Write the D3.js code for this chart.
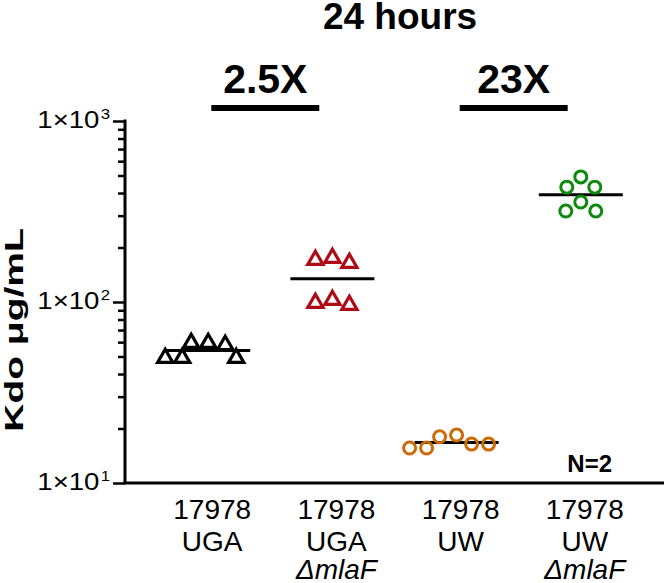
<!DOCTYPE html>
<html>
<head>
<meta charset="utf-8">
<script src="https://cdn.jsdelivr.net/npm/d3@7"></script>
<style>
  body { margin: 0; background: #fff; }
  text { font-family: "Liberation Sans", Arial, sans-serif; fill: #000; }
</style>
</head>
<body>
<div id="chart"></div>
<script>
  /**
   * DATA
   * */
  const categories = ["17978 UGA", "17978 UGA mlaF", "17978 UW", "17978 UW mlaF"];
  const catLine1 = ["17978", "17978", "17978", "17978"];
  const catLine2 = ["UGA", "UGA", "UW", "UW"];
  const catLine3 = ["", "\u0394mlaF", "", "\u0394mlaF"];
  const colors = ["#000000", "#ad0c16", "#cc6a06", "#0b8a0b"];
  const shapes = ["triangle", "triangle", "circle", "circle"];

  const ugaWT  = [59.3, 59.3, 57.8, 49.0, 49.0, 49.0];
  const ugaMla = [170.6, 164.3, 175.0, 102.6, 96.2, 98.7];
  const uwWT   = [16.4, 18.0, 15.6, 15.6, 18.4, 16.4];
  const uwMla  = [431, 431, 491, 357, 318, 318];
  const seriesValues = [ugaWT, ugaMla, uwWT, uwMla];

  const majorTicks = [10, 100, 1000];
  const foldLabels = ["2.5X", "23X"];
  const foldPairs = [[0, 1], [2, 3]];
  const title = "24 hours";
  const yLabel = "Kdo \u03bcg/mL";
  const nLabel = "N=2";

  /**
   * CONSTANTS
   * */
  const width = 670, height = 583;
  const margin = { top: 121, bottom: 100, left: 125, right: 6 };

  const svg = d3.select("#chart")
    .append("svg")
    .attr("width", width)
    .attr("height", height);

  const yScale = d3.scaleLog()
    .domain([10, 1000])
    .range([height - margin.bottom, margin.top]);

  const xScale = d3.scaleBand()
    .domain(categories)
    .range([margin.left, width - margin.right])
    .paddingInner(0)
    .paddingOuter(0.17);

  const cx = d => xScale(d) + xScale.bandwidth() / 2;

  // minor ticks 2..9 for every decade
  let allTicks = [];
  majorTicks.forEach(m => {
    allTicks.push(m);
    if (m < 1000) d3.range(2, 10).forEach(k => allTicks.push(m * k));
  });

  /**
   * AXES
   * */
  const yAxis = d3.axisLeft(yScale).tickValues(allTicks).tickFormat("").tickSizeOuter(0);
  const gy = svg.append("g")
    .attr("transform", `translate(${margin.left},0)`)
    .call(yAxis);
  gy.select(".domain").attr("stroke-width", 3).attr("d", `M0,${margin.top - 1.5}V${height - margin.bottom}`);
  gy.selectAll(".tick line")
    .attr("stroke-width", 2.5)
    .attr("x2", d => majorTicks.includes(d) ? -12 : -7);

  majorTicks.forEach(m => {
    const t = svg.append("text")
      .attr("transform", `translate(${margin.left - 15},${yScale(m) + 7}) scale(1.2,1)`)
      .attr("text-anchor", "end")
      .style("font-size", "23px");
    t.append("tspan").text("1\u00d710");
    t.append("tspan")
      .attr("dy", -9)
      .attr("dx", 1)
      .style("font-size", "14px")
      .text(Math.round(Math.log10(m)));
  });

  svg.append("line")
    .attr("x1", margin.left - 1.5)
    .attr("x2", width - margin.right)
    .attr("y1", height - margin.bottom)
    .attr("y2", height - margin.bottom)
    .attr("stroke", "#000")
    .attr("stroke-width", 3);

  // category labels
  const catG = svg.selectAll("g.cat")
    .data(categories)
    .join("g")
    .attr("class", "cat")
    .attr("transform", d => `translate(${cx(d) + 4},${height - margin.bottom})`);
  catG.append("text").attr("y", 36).attr("text-anchor", "middle")
    .style("font-size", "28px").text((d, i) => catLine1[i]);
  catG.append("text").attr("y", 68).attr("text-anchor", "middle")
    .style("font-size", "28px").text((d, i) => catLine2[i]);
  catG.append("text").attr("y", 96).attr("text-anchor", "middle")
    .style("font-size", "28px").style("font-style", "italic").text((d, i) => catLine3[i]);

  // y label
  svg.append("text")
    .attr("transform", `translate(23,330) rotate(-90) scale(1.5,1)`)
    .attr("text-anchor", "middle")
    .style("font-size", "26px")
    .style("font-weight", "bold")
    .text(yLabel);

  // title
  svg.append("text")
    .attr("x", 400).attr("y", 29)
    .attr("text-anchor", "middle")
    .style("font-size", "37px")
    .style("font-weight", "bold")
    .text(title);

  /**
   * POINTS  (simple beeswarm so the markers spread sideways)
   * */
  function swarm(vals, D) {
    const placed = [];
    const order = d3.range(vals.length).sort((a, b) => vals[b] - vals[a]);
    order.forEach(i => {
      const py = yScale(vals[i]);
      let dx = 0;
      for (let k = 0; k < 400; k++) {
        const cand = k === 0 ? 0 : (k % 2 ? -(k + 1) / 2 : k / 2);
        if (placed.every(p => Math.hypot(p.dx - cand, p.y - py) >= D)) { dx = cand; break; }
      }
      placed.push({ i, dx, y: py, v: vals[i] });
    });
    return placed;
  }

  const triangle = d3.symbol().type(d3.symbolTriangle).size(100);

  categories.forEach((c, gi) => {
    const pts = swarm(seriesValues[gi], 17);
    const g = svg.append("g").attr("class", "group");

    // mean line
    const m = d3.mean(seriesValues[gi]);
    g.append("line")
      .attr("x1", cx(c) - 42).attr("x2", cx(c) + 42)
      .attr("y1", yScale(m)).attr("y2", yScale(m))
      .attr("stroke", "#000").attr("stroke-width", 3);

    if (shapes[gi] === "triangle") {
      g.selectAll("path.pt")
        .data(pts)
        .join("path")
        .attr("class", "pt")
        .attr("d", triangle)
        .attr("transform", d => `translate(${cx(c) + d.dx},${d.y})`)
        .attr("fill", "none")
        .attr("stroke", colors[gi])
        .attr("stroke-width", 3.2);
    } else {
      g.selectAll("circle.pt")
        .data(pts)
        .join("circle")
        .attr("class", "pt")
        .attr("cx", d => cx(c) + d.dx)
        .attr("cy", d => d.y)
        .attr("r", 6)
        .attr("fill", "none")
        .attr("stroke", colors[gi])
        .attr("stroke-width", 3);
    }
  });

  /**
   * FOLD CHANGE BARS
   * */
  foldPairs.forEach((p, i) => {
    const mid = (cx(categories[p[0]]) + cx(categories[p[1]])) / 2 - 5;
    const x1 = mid - 54, x2 = mid + 54;
    svg.append("line")
      .attr("x1", x1).attr("x2", x2)
      .attr("y1", 108).attr("y2", 108)
      .attr("stroke", "#000").attr("stroke-width", 6);
    svg.append("text")
      .attr("x", mid).attr("y", 93)
      .attr("text-anchor", "middle")
      .style("font-size", "41px")
      .style("font-weight", "bold")
      .text(foldLabels[i]);
  });

  svg.append("text")
    .attr("x", 612).attr("y", 472)
    .attr("text-anchor", "end")
    .style("font-size", "24px")
    .style("font-weight", "bold")
    .text(nLabel);
</script>
</body>
</html>
